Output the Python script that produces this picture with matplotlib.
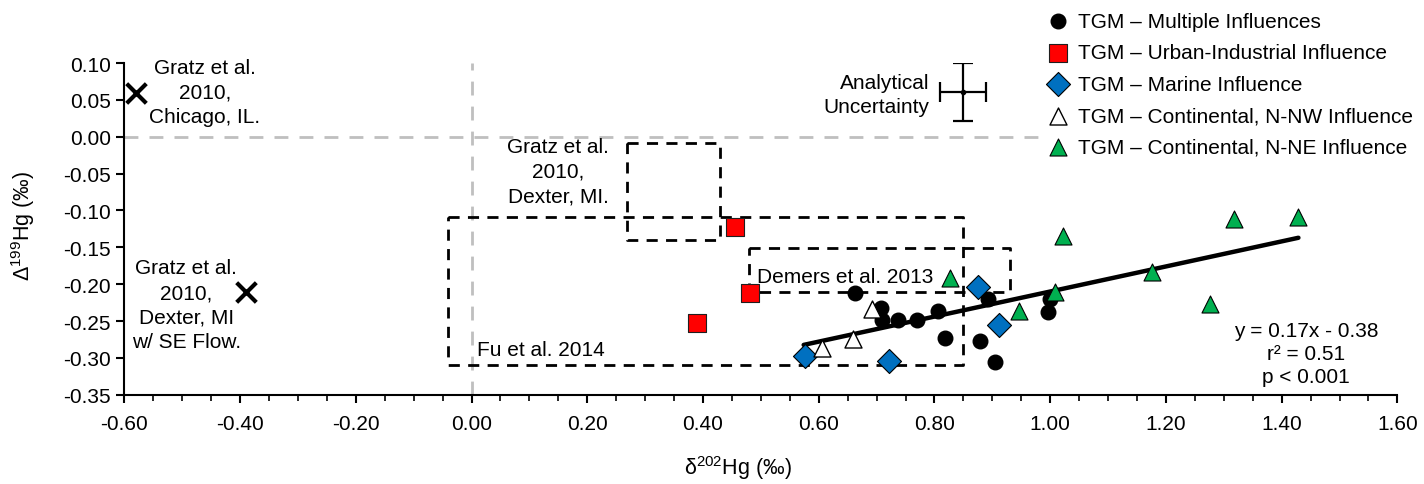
import matplotlib
matplotlib.use("Agg")
import matplotlib.pyplot as plt
import numpy as np

plt.rcParams['font.family'] = ['Liberation Sans', 'DejaVu Sans']
plt.rcParams['font.size'] = 15
plt.rcParams['axes.unicode_minus'] = False
plt.rcParams['mathtext.fontset'] = 'custom'
plt.rcParams['mathtext.rm'] = 'Liberation Sans'
plt.rcParams['mathtext.it'] = 'Liberation Sans:italic'

# ---------------- data ----------------
multi_x = [0.662, 0.708, 0.710, 0.737, 0.769, 0.806, 0.818, 0.878, 0.892, 0.905, 0.999, 0.997]
multi_y = [-0.212, -0.233, -0.248, -0.248, -0.249, -0.237, -0.273, -0.277, -0.220, -0.306, -0.220, -0.238]

urban_x = [0.455, 0.481, 0.389]
urban_y = [-0.122, -0.212, -0.253]

marine_x = [0.576, 0.722, 0.875, 0.911]
marine_y = [-0.297, -0.304, -0.204, -0.255]

nw_x = [0.606, 0.660, 0.692]
nw_y = [-0.286, -0.274, -0.234]

ne_x = [0.827, 0.946, 1.009, 1.023, 1.176, 1.277, 1.317, 1.428]
ne_y = [-0.191, -0.237, -0.211, -0.135, -0.184, -0.227, -0.112, -0.109]

gratz_x = [-0.580, -0.390]
gratz_y = [0.060, -0.210]

fit_slope, fit_intercept = 0.17, -0.38
fit_range = [0.574, 1.429]

# literature boxes: (xmin, xmax, ymin, ymax)
box_gratz_dexter = (0.269, 0.430, -0.140, -0.009)
box_fu = (-0.040, 0.849, -0.310, -0.109)
box_demers = (0.479, 0.930, -0.210, -0.151)

unc_x, unc_y, unc_xerr, unc_yerr = 0.849, 0.061, 0.040, 0.039

labels = ["TGM \u2013 Multiple Influences",
          "TGM \u2013 Urban-Industrial Influence",
          "TGM \u2013 Marine Influence",
          "TGM \u2013 Continental, N-NW Influence",
          "TGM \u2013 Continental, N-NE Influence"]

xticks = [-0.60, -0.40, -0.20, 0.00, 0.20, 0.40, 0.60, 0.80, 1.00, 1.20, 1.40, 1.60]
yticks = [0.10, 0.05, 0.00, -0.05, -0.10, -0.15, -0.20, -0.25, -0.30, -0.35]

# ---------------- figure ----------------
fig = plt.figure(figsize=(14.24, 4.85), dpi=100)
ax = fig.add_axes([0.0873, 0.1841, 0.9813 - 0.0873, 0.868 - 0.1841])

ax.set_xlim(-0.60, 1.60)
ax.set_ylim(-0.35, 0.10)

# reference lines
grey = '#bfbfbf'
ax.plot([-0.60, 1.60], [0, 0], color=grey, lw=2, dashes=(5, 4), zorder=1)
ax.plot([0, 0], [-0.35, 0.10], color=grey, lw=2, dashes=(5, 4), zorder=1)

# boxes
for (x0, x1, y0, y1) in [box_gratz_dexter, box_fu, box_demers]:
    ax.plot([x0, x1, x1, x0, x0], [y1, y1, y0, y0, y1], color='black', lw=2.0,
            dashes=(4, 3), zorder=2)

# regression
fx = np.array(fit_range)
ax.plot(fx, fit_slope * fx + fit_intercept, color='black', lw=3.2, zorder=3,
        solid_capstyle='round')

# data
ax.scatter(multi_x, multi_y, s=110, marker='o', color='black', zorder=4, label=labels[0])
ax.scatter(urban_x, urban_y, s=150, marker='s', facecolor='#ff0000', edgecolor='#1f1f1f',
           linewidths=0.8, zorder=4, label=labels[1])
ax.scatter(marine_x, marine_y, s=150, marker='D', facecolor='#0070c0', edgecolor='black',
           linewidths=0.8, zorder=4, label=labels[2])
ax.scatter(nw_x, nw_y, s=150, marker='^', facecolor='white', edgecolor='black',
           linewidths=1.0, zorder=4, label=labels[3])
ax.scatter(ne_x, ne_y, s=150, marker='^', facecolor='#00b050', edgecolor='black',
           linewidths=0.8, zorder=4, label=labels[4])

ax.scatter(gratz_x, gratz_y, s=200, marker='x', color='black', linewidths=3, zorder=4)

# analytical uncertainty
ax.errorbar([unc_x], [unc_y], xerr=[unc_xerr], yerr=[unc_yerr], fmt='o', ms=3,
            color='black', ecolor='black', elinewidth=1.6, capsize=7, capthick=1.6, zorder=4)
ax.text(0.792, 0.057, "Analytical\nUncertainty", ha='right', va='center',
        fontsize=15, linespacing=1.3)

# annotations
ax.text(-0.461, 0.0606, "Gratz et al.\n2010,\nChicago, IL.", ha='center', va='center',
        fontsize=15, linespacing=1.37)
ax.text(-0.493, -0.228, "Gratz et al.\n2010,\nDexter, MI\nw/ SE Flow.", ha='center',
        va='center', fontsize=15, linespacing=1.37)
ax.text(0.150, -0.047, "Gratz et al.\n2010,\nDexter, MI.", ha='center', va='center',
        fontsize=15, linespacing=1.37)
ax.text(0.009, -0.288, "Fu et al. 2014", ha='left', va='center', fontsize=15)
ax.text(0.493, -0.189, "Demers et al. 2013", ha='left', va='center', fontsize=15)
ax.text(1.442, -0.294, "y = 0.17x - 0.38\nr\u00b2 = 0.51\np < 0.001", ha='center',
        va='center', fontsize=15, linespacing=1.27)

# axes style
for s in ['top', 'right']:
    ax.spines[s].set_visible(False)
for s in ['left', 'bottom']:
    ax.spines[s].set_linewidth(1.5)
ax.set_xticks(xticks)
ax.set_xticklabels([f"{v:.2f}" for v in xticks])
ax.set_xticks(np.arange(-0.60, 1.6001, 0.05), minor=True)
ax.set_yticks(yticks)
ax.set_yticklabels([f"{v:.2f}" for v in yticks])
ax.tick_params(axis='both', which='major', direction='out', length=6, width=1.5, labelsize=15)
ax.tick_params(axis='x', which='minor', direction='out', length=4, width=1.2)
ax.tick_params(axis='x', pad=8)

ax.set_xlabel("\u03b4$^{202}$Hg (\u2030)", fontsize=15.5)
ax.xaxis.set_label_coords(0.4817, -0.175)
ax.set_ylabel("\u0394$^{199}$Hg (\u2030)", fontsize=15.5)
ax.yaxis.set_label_coords(-0.0686, 0.513)

leg = fig.legend(loc='upper left', bbox_to_anchor=(1032 / 1424, 1 + 4 / 485),
                 frameon=True, facecolor='white', edgecolor='none', framealpha=1,
                 fontsize=15, handlelength=0.9, handletextpad=0.5, labelspacing=0.6,
                 borderpad=0.3, scatterpoints=1)
leg.set_zorder(10)

fig.savefig("out.png", dpi=100)
